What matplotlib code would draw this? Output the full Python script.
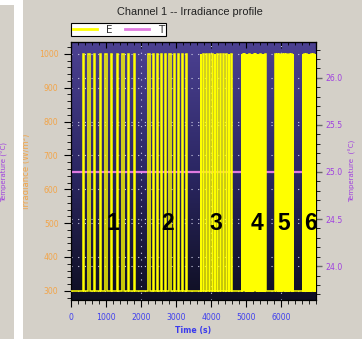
import numpy as np
import matplotlib
matplotlib.use("Agg")
import matplotlib.pyplot as plt
from matplotlib.ticker import MultipleLocator, FormatStrFormatter, FixedLocator
from matplotlib.lines import Line2D
from matplotlib.patches import Rectangle
from matplotlib.colors import LinearSegmentedColormap

# Irradiance profile: six pulse trains between a low and a high level
seg_first = [352, 2229, 3714, 4890, 5840, 6630]   # centre of first pulse (s)
seg_period = [162, 120, 80, 35, 20, 20]            # pulse period (s)
seg_count = [10, 10, 12, 20, 26, 19]               # pulses per train
seg_width = [40, 38, 20, 10, 8, 8]                 # time at high level (s)
e_low = 300
e_high = 1000
t_end = 7000

# Channel temperature
temp_time = [0, 7000]
temp_value = [25.0, 25.0]

# Train numbers written on the plot
seg_names = ["1", "2", "3", "4", "5", "6"]
seg_label_t = [1200, 2770, 4137, 5306, 6086, 6830]
seg_label_e = 500

x_ticks = [0, 1000, 2000, 3000, 4000, 5000, 6000]

# ---- build the stepped irradiance trace
t = [0.0]
e = [e_low]
for first, period, count, width in zip(seg_first, seg_period, seg_count, seg_width):
    for k in range(count):
        c = first + k * period
        t += [c - width / 2, c - width / 2, c + width / 2, c + width / 2]
        e += [e_low, e_high, e_high, e_low]
t.append(t_end)
e.append(e_low)

W, H, DPI = 362, 339, 100
fig = plt.figure(figsize=(W / DPI, H / DPI), dpi=DPI, facecolor="#d4d0c8")

# side strips of the window
fig.patches.append(Rectangle((14 / W, 0), 9 / W, 1, transform=fig.transFigure,
                             facecolor="white", edgecolor="none", zorder=0))
fig.patches.append(Rectangle((0, 1 - 5 / H), 23 / W, 5 / H, transform=fig.transFigure,
                             facecolor="white", edgecolor="none", zorder=0))
fig.text(4 / W, 1 - 172 / H, "Temperature (°C)", rotation=90, ha="center", va="center",
         color="#a040e0", fontsize=5.0, family="DejaVu Sans")

left, right, top, bottom = 71, 316, 42, 300
rect = [left / W, 1 - bottom / H, (right - left) / W, (bottom - top) / H]

ax = fig.add_axes(rect)
ax2 = ax.twinx()
ax2.set_zorder(ax.get_zorder() - 1)
ax.patch.set_visible(False)

# background gradient
grad = np.linspace(0, 1, 256).reshape(-1, 1)
bg_cmap = LinearSegmentedColormap.from_list("bg", ["#4c4192", "#2b2763", "#0f0f22"])
ax2.imshow(grad, cmap=bg_cmap, aspect="auto", extent=[0, 1, 0, 1],
           transform=ax2.transAxes, zorder=-10, origin="upper")

ax.set_xlim(0, 7000)
ax.set_ylim(273, 1035)
ax2.set_ylim(23.64, 26.38)

# temperature line (secondary axis), irradiance trace on top
ax2.plot(temp_time, temp_value, color="#e07ae0", lw=1.6, zorder=3)
ax.plot(t, e, color="#ffff00", lw=1.1, zorder=3, solid_joinstyle="miter")

for name, tx in zip(seg_names, seg_label_t):
    ax.text(tx, seg_label_e, name, ha="center", va="center", fontsize=16.5,
            fontweight="bold", color="black", family="Liberation Sans", zorder=5)

# grids
grid_kw = dict(color="#d0d0e8", linestyle=(0, (1, 5)), linewidth=0.8)
ax.set_axisbelow(True)
ax.yaxis.grid(True, **grid_kw)
ax2.yaxis.grid(True, **grid_kw)
for gx in [2000, 4000, 6000]:
    ax.axvline(gx, zorder=1, **grid_kw)

# ticks
tick_font = dict(family="DejaVu Sans", size=5.6)
ax.xaxis.set_major_locator(FixedLocator(x_ticks))
ax.xaxis.set_minor_locator(MultipleLocator(200))
ax.yaxis.set_minor_locator(MultipleLocator(20))
ax.set_yticks(np.arange(300, 1001, 100))
ax2.yaxis.set_major_locator(MultipleLocator(0.5))
ax2.yaxis.set_minor_locator(MultipleLocator(0.1))
ax2.yaxis.set_major_formatter(FormatStrFormatter("%.1f"))

ax.tick_params(axis="x", which="major", direction="out", length=5, width=0.8,
               color="black", labelcolor="#4040ee", pad=4)
ax.tick_params(axis="x", which="minor", direction="out", length=3, width=0.6, color="black")
ax.tick_params(axis="y", which="major", direction="out", length=5, width=0.8,
               color="black", labelcolor="#f2a54a", pad=4)
ax.tick_params(axis="y", which="minor", direction="out", length=3, width=0.6, color="black")
ax2.tick_params(axis="y", which="major", direction="inout", length=8, width=1.0,
                color="#666666", labelcolor="#a040e0", pad=3)
ax2.tick_params(axis="y", which="minor", direction="out", length=3, width=0.6, color="black")
for lab in ax.get_xticklabels() + ax.get_yticklabels() + ax2.get_yticklabels():
    lab.set_fontfamily(tick_font["family"])
    lab.set_fontsize(tick_font["size"])

# top inward ticks
axt = ax.secondary_xaxis("top")
axt.xaxis.set_major_locator(MultipleLocator(1000))
axt.xaxis.set_minor_locator(MultipleLocator(200))
axt.tick_params(which="both", direction="in", labeltop=False, color="black")
axt.tick_params(which="major", length=4)
axt.tick_params(which="minor", length=2.5)

for sp in list(ax.spines.values()) + list(ax2.spines.values()):
    sp.set_color("black")
    sp.set_linewidth(0.8)

ax.set_ylabel("Irradiance (W/m²)", color="#f2a54a", fontsize=6.1,
              family="DejaVu Sans", labelpad=6)
ax2.set_ylabel("Temperature  (°C)", color="#a040e0", fontsize=5.0,
               family="DejaVu Sans", labelpad=4)
ax.set_xlabel("Time (s)", color="#3a3aee", fontsize=5.6, fontweight="bold",
              family="DejaVu Sans", labelpad=3)

fig.text(190 / W, 1 - 12 / H, "Channel 1 -- Irradiance profile", ha="center",
         va="center", fontsize=7.9, color="#222222", family="Liberation Sans")

handles = [Line2D([], [], color="#ffff00", lw=2.0),
           Line2D([], [], color="#e07ae0", lw=2.0)]
leg = fig.legend(handles, ["E", "T"], loc="upper left",
                 bbox_to_anchor=(71 / W, 1 - 23 / H), ncol=2, frameon=True,
                 fancybox=False, edgecolor="black", facecolor="white", framealpha=1,
                 fontsize=7.5, handlelength=2.3, handletextpad=0.9, columnspacing=1.2,
                 borderpad=0.15, borderaxespad=0)
for txt in leg.get_texts():
    txt.set_color("#333333")
leg.get_frame().set_linewidth(0.8)

fig.savefig("out.png", dpi=DPI, facecolor=fig.get_facecolor())
